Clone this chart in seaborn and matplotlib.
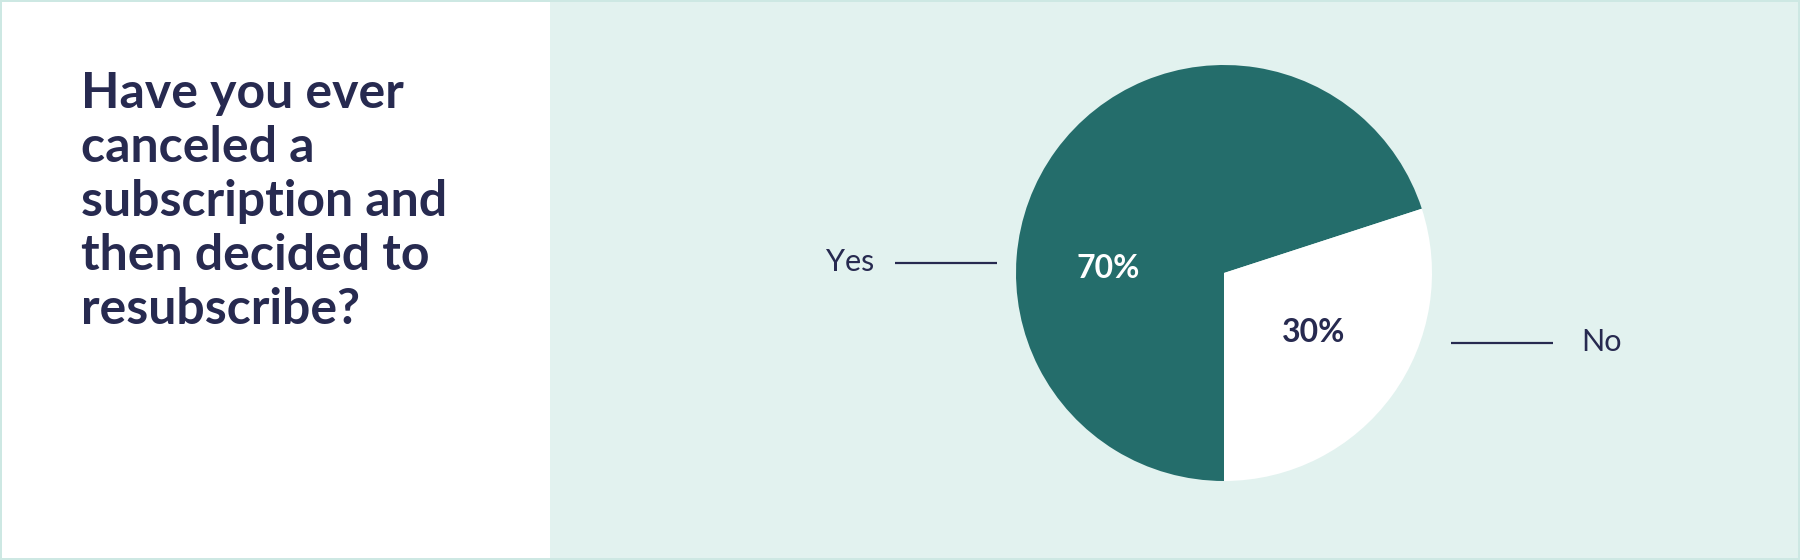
import matplotlib
matplotlib.use("Agg")
import matplotlib.pyplot as plt
import matplotlib.patches as mpatches
import seaborn as sns

# survey data
answers = ["Yes", "No"]
shares = [70, 30]
question = "Have you ever\ncanceled a\nsubscription and\nthen decided to\nresubscribe?"

# colours
slice_colors = ["#246d6b", "#ffffff"]
pct_colors = ["#ffffff", "#272a50"]
navy = "#272a50"
panel_bg = "#e2f2ef"
border = "#cde8e3"

sns.set_theme(style="white")
plt.rcParams["font.family"] = ["Lato", "DejaVu Sans"]

W, H = 1800, 560
fig = plt.figure(figsize=(W / 100, H / 100), dpi=100)
fig.patch.set_facecolor(border)

# pixel-based axes covering the whole figure
ax = fig.add_axes([0, 0, 1, 1])

# panels
ax.add_patch(mpatches.Rectangle((2, 2), 548, H - 4, facecolor="white", edgecolor="none", zorder=0))
ax.add_patch(mpatches.Rectangle((550, 2), W - 552, H - 4, facecolor=panel_bg, edgecolor="none", zorder=0))

# question text
ax.text(81, H - 71, question, ha="left", va="top", fontsize=36, fontweight="bold",
        color=navy, linespacing=1.24)

# pie
cx, cy, r = 1224, 287, 208
wedges, texts, autotexts = ax.pie(
    shares, colors=slice_colors, startangle=18, center=(cx, cy), radius=r,
    autopct="%d%%", pctdistance=0.56, frame=True,
    wedgeprops=dict(linewidth=0),
    textprops=dict(fontsize=23, fontweight="bold"),
)
ax.set_xlim(0, W)
ax.set_ylim(0, H)
ax.set_aspect("equal")
ax.axis("off")
for t, c in zip(autotexts, pct_colors):
    t.set_color(c)
autotexts[0].set_position((cx - 116, cy + 5))
autotexts[1].set_position((cx + 90, cy - 59))

# leader lines and labels
ax.plot([895, 997], [H - 263, H - 263], color=navy, lw=1.6, solid_capstyle="butt")
ax.text(874, H - 262, answers[0], ha="right", va="center", fontsize=22, color=navy)
ax.plot([1451, 1553], [H - 343, H - 343], color=navy, lw=1.6, solid_capstyle="butt")
ax.text(1581, H - 342, answers[1], ha="left", va="center", fontsize=22, color=navy)

fig.savefig("out.png", dpi=100, facecolor=fig.get_facecolor())
